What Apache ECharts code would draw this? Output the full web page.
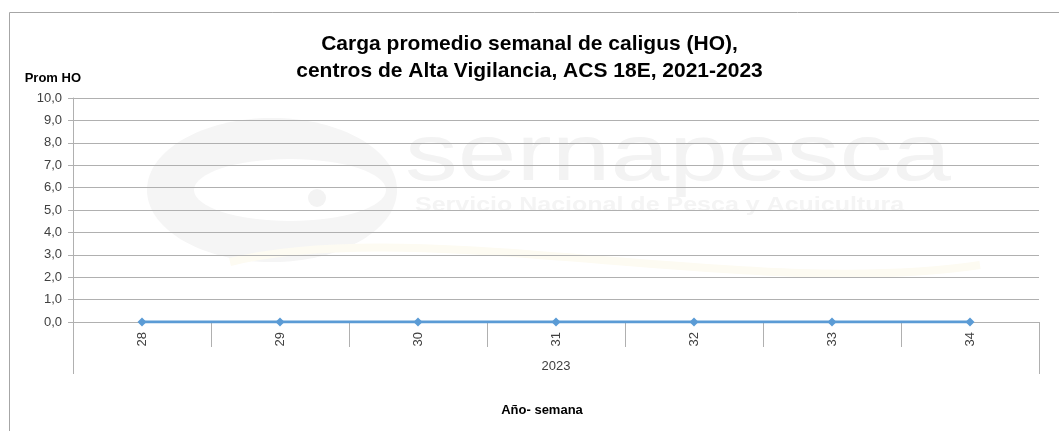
<!DOCTYPE html>
<html>
<head>
<meta charset="utf-8">
<script src="https://cdn.jsdelivr.net/npm/echarts@6/dist/echarts.min.js"></script>
<style>html,body{margin:0;padding:0;background:#fff}#c{width:1059px;height:431px}</style>
</head>
<body>
<div id="c"></div>
<script>
const titleLines = ['Carga promedio semanal de caligus (HO),', 'centros de Alta Vigilancia, ACS 18E, 2021-2023'];
const weeks = ['28', '29', '30', '31', '32', '33', '34'];
const years = ['2023'];
const promHO = [0, 0, 0, 0, 0, 0, 0];
const yTicks = { min: 0, max: 10, interval: 1 };
const yName = 'Prom HO';
const xName = 'Año- semana';

const FONT = 'Liberation Sans';
const chart = echarts.init(document.getElementById('c'), null, { renderer: 'canvas' });
chart.setOption({
  animation: false,
  backgroundColor: '#ffffff',
  textStyle: { fontFamily: FONT },
  title: {
    text: titleLines.join('\n'),
    left: 'center',
    top: 26,
    textStyle: { fontFamily: FONT, fontSize: 21, fontWeight: 'bold', color: '#000', lineHeight: 27 }
  },
  graphic: [
    { type: 'rect', z: -20, silent: true, shape: { x: 9.5, y: 12.5, width: 1200, height: 600 },
      style: { fill: null, stroke: '#a6a6a6', lineWidth: 1 } },
    { type: 'ellipse', z: -12, silent: true, shape: { cx: 272, cy: 190, rx: 125, ry: 72 },
      style: { fill: '#f5f5f5' } },
    { type: 'ellipse', z: -11, silent: true, shape: { cx: 290, cy: 190, rx: 96, ry: 31 },
      style: { fill: '#ffffff' } },
    { type: 'circle', z: -10, silent: true, shape: { cx: 317, cy: 198, r: 9 },
      style: { fill: '#f3f3f3' } },
    { type: 'text', z: -10, silent: true, left: 405, top: 118, scaleX: 1.32,
      style: { text: 'sernapesca', font: '80px "Liberation Sans"', fill: '#f3f3f3' } },
    { type: 'text', z: -10, silent: true, left: 415, top: 195, scaleX: 1.25,
      style: { text: 'Servicio Nacional de Pesca y Acuicultura', font: 'bold 20px "Liberation Sans"', fill: '#f4f4f4' } },
    { type: 'bezierCurve', z: -10, silent: true,
      shape: { x1: 230, y1: 262, x2: 980, y2: 265, cpx1: 420, cpy1: 215, cpx2: 750, cpy2: 300 },
      style: { stroke: '#fdfbf2', lineWidth: 8, fill: null } }
  ],
  grid: { left: 73, right: 20, top: 98, bottom: 109, containLabel: false },
  xAxis: [
    {
      type: 'category', data: weeks, boundaryGap: true, position: 'bottom',
      axisLine: { show: true, lineStyle: { color: '#b0b0b0', width: 1 } },
      axisTick: { show: true, interval: 0, length: 25, lineStyle: { color: '#b0b0b0' } },
      axisLabel: { rotate: 90, interval: 0, margin: 10, fontSize: 13, color: '#404040', fontFamily: FONT }
    },
    {
      type: 'category', data: years, boundaryGap: true, position: 'bottom',
      name: xName, nameLocation: 'middle', nameGap: 82,
      nameTextStyle: { fontWeight: 'bold', fontSize: 13, color: '#000', fontFamily: FONT, padding: [0, 28, 0, 0] },
      axisLine: { show: false },
      axisTick: { show: true, interval: 0, length: 52, lineStyle: { color: '#b0b0b0' } },
      axisLabel: { margin: 38, fontSize: 13, color: '#404040', fontFamily: FONT },
      splitLine: { show: false }
    }
  ],
  yAxis: {
    type: 'value', min: yTicks.min, max: yTicks.max, interval: yTicks.interval,
    name: yName, nameLocation: 'end', nameGap: 13,
    nameTextStyle: { align: 'right', fontWeight: 'bold', fontSize: 13, color: '#000', fontFamily: FONT, padding: [0, -8, 0, 0] },
    axisLine: { show: true, lineStyle: { color: '#b0b0b0' } },
    axisTick: { show: true, length: 5, lineStyle: { color: '#b0b0b0' } },
    axisLabel: { margin: 11, fontSize: 13, color: '#404040', fontFamily: FONT,
      formatter: v => v.toFixed(1).replace('.', ',') },
    splitLine: { show: true, lineStyle: { color: '#b0b0b0', width: 1 } }
  },
  series: [{
    type: 'line', data: promHO, xAxisIndex: 0,
    symbol: 'diamond', symbolSize: 9,
    lineStyle: { color: '#5b9bd5', width: 3 },
    itemStyle: { color: '#5b9bd5' }
  }]
});
</script>
</body>
</html>
